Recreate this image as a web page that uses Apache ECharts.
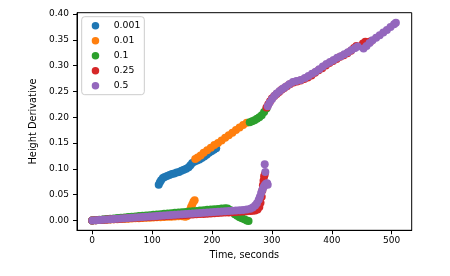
<!DOCTYPE html>
<html>
<head>
<meta charset="utf-8">
<script src="https://cdn.jsdelivr.net/npm/echarts@6/dist/echarts.min.js"></script>
<style>
html,body{margin:0;padding:0;background:#fff;}
#chart{width:450px;height:276px;}
</style>
</head>
<body>
<div id="chart"></div>
<script>
// ---- data (time in seconds, height derivative) ----
const seriesNames = ['0.001', '0.01', '0.1', '0.25', '0.5'];
const seriesColors = ['#1f77b4', '#ff7f0e', '#2ca02c', '#d62728', '#9467bd'];
const xTicks = [0, 100, 200, 300, 400, 500];
const yTicks = [0, 0.05, 0.10, 0.15, 0.20, 0.25, 0.30, 0.35, 0.40];

const s0001 = [
  [0,0.0000],[6,0.0004],[12,0.0008],[18,0.0013],[24,0.0017],[30,0.0021],[36,0.0025],[42,0.0030],
  [48,0.0034],[54,0.0038],[60,0.0042],[66,0.0046],[72,0.0051],[78,0.0055],[84,0.0059],[90,0.0063],
  [96,0.0068],[102,0.0072],[108,0.0076],
  [111,0.069],[113,0.074],[115,0.078],[118,0.082],[121,0.084],[125,0.086],[129,0.088],[133,0.090],
  [137,0.091],[141,0.093],[145,0.094],[149,0.096],[153,0.098],[157,0.100],[161,0.103],[164,0.107],
  [167,0.111],[171,0.114],[175,0.116],[179,0.118],[183,0.121],[187,0.124],[191,0.127],[195,0.131],
  [199,0.134],[203,0.137],[207,0.140]
];
const s001 = [
  [0,0.0000],[6,0.0003],[12,0.0007],[18,0.0010],[24,0.0013],[30,0.0017],[36,0.0020],[42,0.0023],
  [48,0.0026],[54,0.0030],[60,0.0033],[66,0.0036],[72,0.0040],[78,0.0043],[84,0.0046],[90,0.0050],
  [96,0.0053],[102,0.0056],[108,0.0059],[114,0.0063],[120,0.0066],[126,0.0069],[132,0.0073],
  [138,0.0076],[144,0.0079],[150,0.0082],[155,0.0070],[158,0.0080],[161,0.0140],[163,0.0200],
  [165,0.0260],[167,0.0310],[169,0.0360],[171,0.0390],
  [172,0.119],[176,0.122],[181,0.126],[186,0.131],[192,0.136],[198,0.141],[204,0.146],
  [210,0.150],[216,0.155],[222,0.160],[228,0.165],[234,0.170],[240,0.175],[246,0.180],
  [252,0.185],[258,0.189]
];
const s01 = [
  [0,0.0000],[6,0.0006],[12,0.0013],[18,0.0019],[24,0.0025],[30,0.0032],[36,0.0038],[42,0.0045],
  [48,0.0051],[54,0.0057],[60,0.0064],[66,0.0070],[72,0.0076],[78,0.0083],[84,0.0089],[90,0.0095],
  [96,0.0102],[102,0.0108],[108,0.0114],[114,0.0121],[120,0.0127],[126,0.0134],[132,0.0140],
  [138,0.0146],[144,0.0153],[150,0.0159],[156,0.0165],[162,0.0172],[168,0.0178],[174,0.0184],
  [180,0.0191],[186,0.0197],[192,0.0204],[198,0.0210],[204,0.0216],[210,0.0223],[216,0.0229],
  [222,0.0235],[226,0.0232],[230,0.0200],[234,0.0160],[238,0.0120],[242,0.0090],[246,0.0060],
  [250,0.0040],[254,0.0020],[258,0.0000],[261,-0.0010],
  [263,0.190],[267,0.192],[271,0.194],[275,0.197],[279,0.200],[283,0.204],[287,0.210],
  [291,0.217]
];
const s025 = [
  [0,0.0000],[6,0.0004],[12,0.0008],[18,0.0012],[24,0.0016],[30,0.0020],[36,0.0024],[42,0.0029],
  [48,0.0033],[54,0.0037],[60,0.0041],[66,0.0045],[72,0.0049],[78,0.0053],[84,0.0057],[90,0.0061],
  [96,0.0065],[102,0.0069],[108,0.0073],[114,0.0078],[120,0.0082],[126,0.0086],[132,0.0090],
  [138,0.0094],[144,0.0098],[150,0.0102],[156,0.0106],[162,0.0110],[168,0.0114],[174,0.0118],
  [180,0.0122],[186,0.0126],[192,0.0131],[198,0.0135],[204,0.0139],[210,0.0143],[216,0.0147],
  [222,0.0151],[228,0.0155],[234,0.0159],[240,0.0163],[246,0.0167],[252,0.0171],[258,0.0175],
  [264,0.0180],[268,0.0185],[272,0.0190],[276,0.0210],[279,0.0260],[281,0.0340],[283,0.0460],
  [284,0.0580],[285,0.0680],[286,0.0770],[287,0.0850],[288,0.0890],
  [291,0.219],[294,0.225],[297,0.231],[300,0.236],[304,0.241],[308,0.245],[312,0.249],[316,0.253],
  [320,0.256],[325,0.260],[330,0.264],[336,0.267],[342,0.269],[348,0.271],[354,0.274],[360,0.277],
  [366,0.281],[372,0.286],[378,0.291],[384,0.295],[390,0.300],[396,0.305],[402,0.309],[408,0.313],
  [414,0.317],[420,0.320],[426,0.324],[432,0.329],[437,0.334],[441,0.338],[452,0.343],[456,0.346],
  [461,0.345],[465,0.347]
];
const s05 = [
  [0,0.0000],[6,0.0005],[12,0.0010],[18,0.0014],[24,0.0019],[30,0.0024],[36,0.0028],[42,0.0033],
  [48,0.0038],[54,0.0043],[60,0.0047],[66,0.0052],[72,0.0057],[78,0.0062],[84,0.0066],[90,0.0071],
  [96,0.0076],[102,0.0081],[108,0.0085],[114,0.0090],[120,0.0095],[126,0.0099],[132,0.0104],
  [138,0.0109],[144,0.0114],[150,0.0118],[156,0.0123],[162,0.0128],[168,0.0133],[174,0.0137],
  [180,0.0142],[186,0.0147],[192,0.0152],[198,0.0156],[204,0.0161],[210,0.0166],[216,0.0171],
  [222,0.0175],[228,0.0180],[234,0.0185],[240,0.0190],[246,0.0196],[252,0.0203],[258,0.0212],
  [264,0.0228],[268,0.0252],[272,0.0290],[275,0.0330],[278,0.0400],[280,0.0460],[282,0.0530],
  [284,0.0590],[286,0.0640],[288,0.0680],[290,0.0710],[292,0.0720],[293,0.0690],[289,0.0940],
  [288,0.1090],
  [293,0.221],[296,0.228],[300,0.235],[304,0.241],[308,0.246],[313,0.251],[318,0.255],
  [323,0.259],[329,0.264],[335,0.268],[341,0.270],[348,0.272],[355,0.276],[361,0.280],
  [367,0.284],[373,0.288],[379,0.293],[385,0.298],[391,0.303],[397,0.307],[403,0.311],
  [409,0.315],[415,0.318],[421,0.322],[427,0.326],[433,0.330],[439,0.334],
  [443,0.337],[453,0.333],[458,0.338],[463,0.344],[468,0.349],[474,0.354],[480,0.359],
  [486,0.364],[492,0.369],[498,0.375],[504,0.380],[507,0.383]
];
const seriesData = [s0001, s001, s01, s025, s05];

// ---- chart ----
const FONT = 'DejaVu Sans';
const chart = echarts.init(document.getElementById('chart'), null, {renderer: 'canvas'});
chart.setOption({
  animation: false,
  backgroundColor: '#ffffff',
  textStyle: {fontFamily: FONT},
  grid: {
    left: 77, right: 38.3, top: 12.7, bottom: 45.7,
    show: true, borderColor: '#000', borderWidth: 1, backgroundColor: 'transparent',
    containLabel: false, outerBoundsMode: 'none'
  },
  legend: {
    orient: 'vertical',
    left: 81.7, top: 16.7,
    padding: [4, 4, 4, 10],
    itemWidth: 7.5, itemHeight: 7.5, itemGap: 5,
    icon: 'circle',
    backgroundColor: 'rgba(255,255,255,0.8)',
    borderColor: '#cccccc', borderWidth: 1, borderRadius: 3,
    textStyle: {fontFamily: FONT, fontSize: 9.3, color: '#000', lineHeight: 10, padding: [0, 0, 0, 9.5]},
    data: seriesNames
  },
  xAxis: {
    type: 'value',
    min: -25.4, max: 533.4,
    name: 'Time, seconds',
    nameLocation: 'middle', nameGap: 20,
    nameTextStyle: {fontFamily: FONT, fontSize: 9.7, color: '#000'},
    axisLine: {show: true, onZero: false, lineStyle: {color: '#000', width: 1}},
    axisTick: {show: true, length: 4, lineStyle: {color: '#000'}, customValues: xTicks},
    axisLabel: {fontFamily: FONT, fontSize: 9, color: '#000', margin: 6, customValues: xTicks,
      formatter: v => String(Math.round(v))},
    splitLine: {show: false}
  },
  yAxis: {
    type: 'value',
    min: -0.0192, max: 0.4025,
    name: 'Height Derivative',
    nameLocation: 'middle', nameGap: 35,
    nameTextStyle: {fontFamily: FONT, fontSize: 9.8, color: '#000'},
    axisLine: {show: true, onZero: false, lineStyle: {color: '#000', width: 1}},
    axisTick: {show: true, length: 4, lineStyle: {color: '#000'}, customValues: yTicks},
    axisLabel: {fontFamily: FONT, fontSize: 9, color: '#000', margin: 8, customValues: yTicks,
      formatter: v => v.toFixed(2)},
    splitLine: {show: false}
  },
  series: seriesNames.map((n, i) => ({
    name: n,
    type: 'scatter',
    data: seriesData[i],
    symbol: 'circle',
    symbolSize: 8,
    itemStyle: {color: seriesColors[i], opacity: 1},
    emphasis: {disabled: true}
  }))
});
</script>
</body>
</html>
